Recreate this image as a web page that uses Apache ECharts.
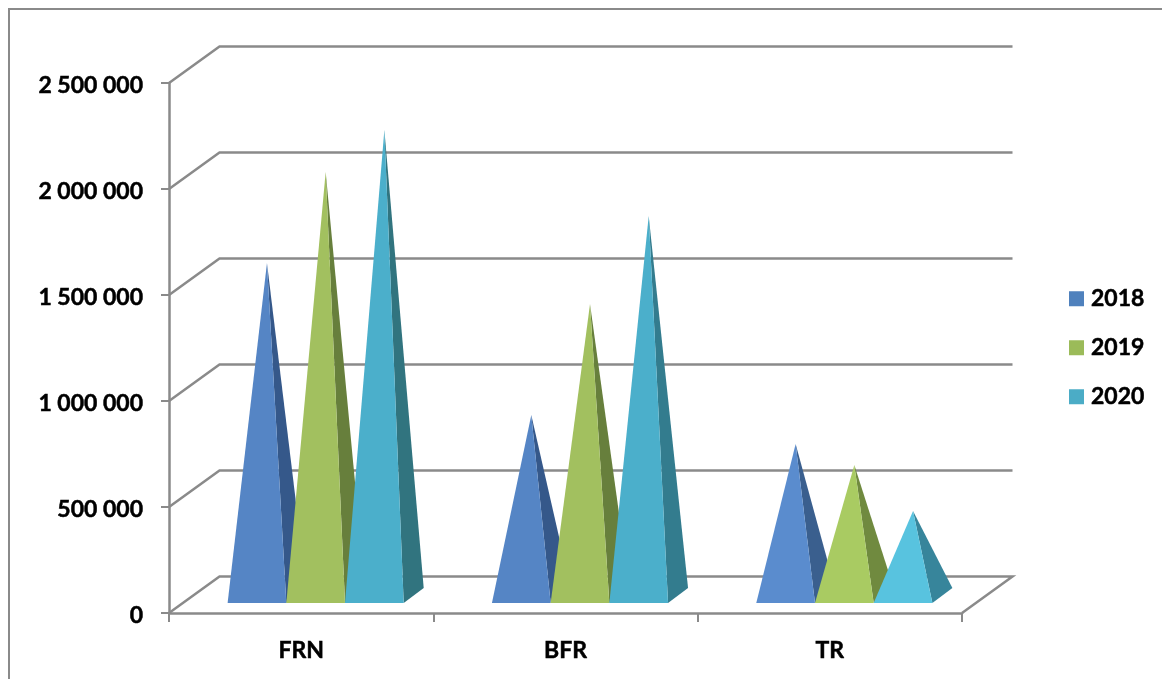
<!DOCTYPE html>
<html><head><meta charset="utf-8">
<style>html,body{margin:0;padding:0;background:#fff}#c{width:1162px;height:679px}</style>
<script src="https://cdn.jsdelivr.net/npm/echarts@6/dist/echarts.min.js"></script>
</head><body><div id="c"></div>
<script>
const categories = ['FRN', 'BFR', 'TR'];
const years = ['2018', '2019', '2020'];
const values2018 = [1568000, 851000, 715000];
const values2019 = [1998000, 1375000, 616000];
const values2020 = [2196000, 1790000, 399000];
const yTicks = [0, 500000, 1000000, 1500000, 2000000, 2500000];
const frontColors = [['#5585C5','#5585C5','#5A8CCE'],['#A2C05F','#A2C05F','#A9CB62'],['#4BAFCB','#4BAFCB','#58C3DF']];
const sideColors = [['#35588A','#35588A','#3A5F8E'],['#677F3C','#677F3C','#708A3F'],['#31747F','#337C8E','#37859B']];
const legendColors = ['#4F81BD', '#9BBB59', '#4BACC6'];
const lineColor = '#8A8A8A';
const DX = 50.5, DY = 36.5;       // depth of the 3D box
const BAR_W = 58.7, SHIFT = 14.5; // pyramid base width, group shift inside the box
const FRONT = 10, PDX = 20, PDY = 15; // pyramid base inset and depth
const labelFont = {fontFamily: 'Lato', fontWeight: 'bold', fontSize: 23, color: '#000',
  textBorderColor: '#000', textBorderWidth: 0.5};

function wallItem(params, api) {
  const p = api.coord([0, api.value(1)]);
  const cs = params.coordSys;
  const x0 = cs.x, x1 = cs.x + cs.width, y = p[1];
  const pts = [[x0, y], [x0 + DX, y - DY], [x1 + DX, y - DY]];
  if (api.value(1) === 0) pts.push([x1, y]);
  return {type: 'polyline', shape: {points: pts}, silent: true,
    style: {stroke: lineColor, lineWidth: 2.5, fill: null}};
}
function pyramid(seriesIdx) {
  return function (params, api) {
    const c = api.value(0);
    const top = api.coord([c, api.value(1)]);
    const zero = api.coord([c, 0]);
    const left = top[0] + SHIFT + (seriesIdx - 1.5) * BAR_W;
    const right = left + BAR_W;
    const yF = zero[1] - FRONT;
    const apex = [(left + right) / 2 + PDX / 2, top[1] - FRONT - PDY / 2];
    return {type: 'group', children: [
      {type: 'polygon', shape: {points: [[right, yF], [right + PDX, yF - PDY], apex]},
        style: {fill: sideColors[seriesIdx][c]}},
      {type: 'polygon', shape: {points: [[left, yF], [right, yF], apex]},
        style: {fill: frontColors[seriesIdx][c]}}
    ]};
  };
}
const allValues = [values2018, values2019, values2020];
const option = {
  animation: false,
  backgroundColor: '#fff',
  textStyle: {fontFamily: 'Lato'},
  graphic: [{type: 'rect', silent: true, z: -1, shape: {x: 9, y: 9, width: 1300, height: 800},
    style: {fill: null, stroke: '#8A8A8A', lineWidth: 2}}],
  grid: {left: 169, right: 200, top: 83, bottom: 66},
  legend: {
    data: years, orient: 'vertical', left: 1069, top: 287, padding: 0, icon: 'rect',
    itemWidth: 15, itemHeight: 15, itemGap: 25.5, selectedMode: false,
    textStyle: Object.assign({padding: [0,0,0,2]}, labelFont)
  },
  xAxis: {type: 'category', data: categories,
    axisLine: {lineStyle: {color: lineColor, width: 2.5}},
    axisTick: {show: true, length: 9, lineStyle: {color: lineColor, width: 2}},
    axisLabel: Object.assign({margin: 26}, labelFont),
    splitLine: {show: false}},
  yAxis: {type: 'value', min: 0, max: 2500000, interval: 500000,
    axisLine: {show: true, lineStyle: {color: lineColor, width: 2.5}},
    axisTick: {show: true, length: 8, lineStyle: {color: lineColor, width: 2}},
    axisLabel: Object.assign({margin: 26,
      formatter: v => '{a|' + String(v).replace(/\B(?=(\d{3})+$)/g, ' ') + '}',
      rich: {a: Object.assign({padding: [5, 0, 0, 0]}, labelFont)}}, labelFont),
    splitLine: {show: false}},
  series: [
    {type: 'custom', name: 'walls', z: 1, clip: false, silent: true,
      renderItem: wallItem, data: yTicks.map(v => [0, v]), encode: {x: 0, y: 1}},
    ...years.map((name, i) => ({
      type: 'custom', name, z: 2 + i, clip: false,
      itemStyle: {color: legendColors[i]},
      renderItem: pyramid(i),
      data: allValues[i].map((v, c) => [c, v]),
      encode: {x: 0, y: 1}
    }))
  ]
};
echarts.init(document.getElementById('c'), null, {renderer: 'canvas'}).setOption(option);
</script></body></html>
